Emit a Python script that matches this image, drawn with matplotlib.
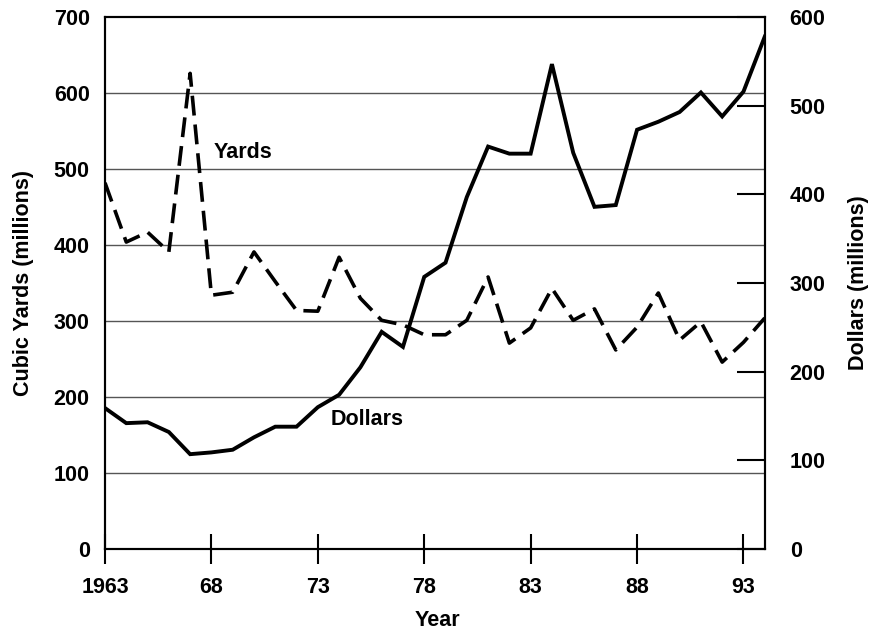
import matplotlib
matplotlib.use("Agg")
import matplotlib.pyplot as plt

years = list(range(1963, 1995))
yards = [482, 404, 417, 391, 626, 334, 338, 391, 352, 314, 313, 384, 330, 301, 295, 282,
         282, 301, 358, 271, 291, 343, 301, 316, 262, 292, 337, 275, 299, 246, 272, 304]
dollars = [159, 142, 143, 132, 107, 109, 112, 126, 138, 138, 160, 174, 205, 245, 228, 307,
           323, 397, 454, 446, 446, 547, 447, 386, 388, 473, 482, 493, 515, 488, 516, 578]
xticks = [1963, 1968, 1973, 1978, 1983, 1988, 1993]
xticklabels = ["1963", "68", "73", "78", "83", "88", "93"]
left_ticks = [0, 100, 200, 300, 400, 500, 600, 700]
right_ticks = [0, 100, 200, 300, 400, 500, 600]

plt.rcParams['font.family'] = ['Liberation Sans', 'DejaVu Sans']
plt.rcParams['font.weight'] = 'bold'
FS = 15.5

fig = plt.figure(figsize=(8.75, 6.35), dpi=100)
ax = fig.add_axes([0.12, 0.1354, 0.754, 0.8376])
ax2 = ax.twinx()

for a in (ax, ax2):
    for s in a.spines.values():
        s.set_linewidth(1.5)
        s.set_color('black')

ax.set_xlim(1963, 1994)
ax.set_ylim(0, 700)
ax2.set_ylim(0, 600)

for v in left_ticks[1:-1]:
    ax.axhline(v, color='#555555', lw=1.0, zorder=1)

ax.plot(years, yards, color='black', lw=2.6, dashes=(5.5, 2.5), zorder=3)
ax2.plot(years, dollars, color='black', lw=2.8, solid_joinstyle='miter', zorder=3)

ax.set_yticks(left_ticks)
ax.set_yticklabels([str(v) for v in left_ticks], fontsize=FS, fontweight='bold')
ax.tick_params(axis='y', length=0, pad=11)

ax.set_xticks(xticks)
ax.set_xticklabels(xticklabels, fontsize=FS, fontweight='bold')
ax.tick_params(axis='x', direction='inout', length=22, width=1.5, pad=9)

ax2.set_yticks(right_ticks)
ax2.set_yticklabels([str(v) for v in right_ticks], fontsize=FS, fontweight='bold')
ax2.tick_params(axis='y', direction='in', length=20, width=1.5, pad=18)

ax.set_ylabel("Cubic Yards (millions)", fontsize=FS, fontweight='bold', labelpad=14)
ax2.set_ylabel("Dollars (millions)", fontsize=FS, fontweight='bold', rotation=90, labelpad=16)
fig.text(437 / 875, 1 - 620 / 635, "Year", fontsize=FS, fontweight='bold', ha='center', va='center')

ax.text(1968.1, 522, "Yards", fontsize=FS, fontweight='bold', va='center', ha='left')
ax.text(1973.6, 170, "Dollars", fontsize=FS, fontweight='bold', va='center', ha='left')

fig.savefig("out.png", dpi=100)
